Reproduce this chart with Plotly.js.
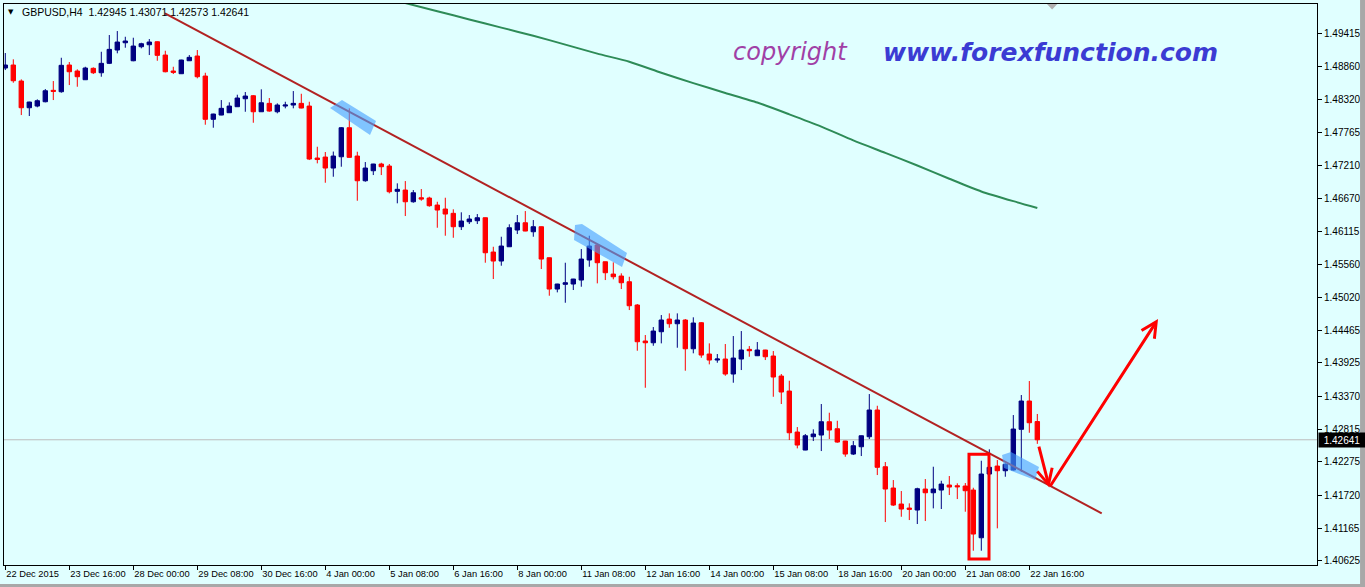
<!DOCTYPE html>
<html>
<head>
<meta charset="utf-8">
<script src="https://cdn.plot.ly/plotly-3.0.1.min.js"></script>
<style>
html,body{margin:0;padding:0;background:#e0ffff;overflow:hidden}
#chart{width:1365px;height:587px}
</style>
</head>
<body>
<div id="chart"></div>
<script>
// ---------------- DATA ----------------
const symbolTitle = 'GBPUSD,H4';
const lastQuote = [1.42945, 1.43071, 1.42573, 1.42641];

const opens = [
1.48837,1.48887,1.48620,1.48175,1.48203,1.48275,1.48465,1.48442,1.48887,1.48787,
1.48642,1.48832,1.48758,1.48915,1.49137,1.49258,1.48958,1.49192,1.49225,1.49275,
1.49053,1.48787,1.48742,1.48958,1.49037,1.48703,1.47982,1.48053,1.48092,1.48192,
1.48325,1.48375,1.48108,1.48248,1.48108,1.48203,1.48220,1.48248,1.48203,1.47337,
1.47353,1.47170,1.47358,1.47842,1.47370,1.46958,1.47125,1.47237,1.47203,1.46782,
1.46803,1.46608,1.46675,1.46670,1.46553,1.46487,1.46415,1.46192,1.46275,1.46292,
1.46342,1.45770,1.45620,1.45858,1.46137,1.46258,1.46108,1.46192,1.45675,1.45153,
1.45232,1.45237,1.45303,1.45637,1.45887,1.45608,1.45403,1.45370,1.45275,1.44887,
1.44287,1.44258,1.44442,1.44653,1.44575,1.44637,1.44158,1.44592,1.44070,1.43970,
1.43987,1.43737,1.43987,1.44148,1.44042,1.44137,1.44037,1.43703,1.43453,1.42770,
1.42470,1.42692,1.42720,1.42942,1.42825,1.42620,1.42403,1.42525,1.42692,1.43137,
1.42192,1.41837,1.41570,1.41503,1.41470,1.41820,1.41758,1.41803,1.41887,1.41875,
1.41870,1.41803,1.41008,1.42070,1.42203,1.42125,1.42137,1.42815,1.43287,1.42945];

const highs = [
1.49087,1.48982,1.48648,1.48275,1.48315,1.48487,1.48620,1.49008,1.48937,1.48815,
1.48858,1.48848,1.49108,1.49387,1.49453,1.49358,1.49342,1.49258,1.49320,1.49282,
1.49125,1.48858,1.48975,1.49053,1.49137,1.48758,1.48075,1.48303,1.48265,1.48392,
1.48437,1.48387,1.48482,1.48337,1.48248,1.48275,1.48453,1.48408,1.48275,1.47525,
1.47437,1.47445,1.47853,1.48165,1.47442,1.47270,1.47240,1.47258,1.47237,1.46915,
1.46953,1.46803,1.46820,1.46692,1.46608,1.46675,1.46482,1.46432,1.46387,1.46403,
1.46345,1.45858,1.46025,1.46232,1.46387,1.46453,1.46303,1.46195,1.45678,1.45240,
1.45592,1.45323,1.45820,1.46042,1.45898,1.45610,1.45598,1.45415,1.45358,1.44903,
1.44387,1.44520,1.44720,1.44748,1.44748,1.44653,1.44682,1.44603,1.44248,1.44070,
1.44237,1.44370,1.44453,1.44203,1.44270,1.44140,1.44120,1.43737,1.43625,1.42853,
1.42737,1.42815,1.43237,1.43092,1.42958,1.42623,1.42620,1.42712,1.43403,1.43208,
1.42270,1.41970,1.41787,1.41582,1.41842,1.41987,1.42192,1.41958,1.42037,1.41915,
1.41920,1.41842,1.42292,1.42482,1.42303,1.42248,1.43053,1.43387,1.43620,1.43071];

const lows = [
1.48803,1.48592,1.48053,1.48037,1.48182,1.48265,1.48303,1.48425,1.48553,1.48525,
1.48637,1.48737,1.48692,1.48903,1.49082,1.49175,1.48950,1.49165,1.49053,1.48958,
1.48765,1.48737,1.48737,1.48955,1.48665,1.47892,1.47842,1.48050,1.48090,1.48190,
1.48108,1.47925,1.48105,1.48108,1.48082,1.48165,1.48165,1.48165,1.47303,1.47248,
1.46925,1.47025,1.47192,1.47345,1.46625,1.46942,1.47053,1.47053,1.46748,1.46582,
1.46370,1.46592,1.46625,1.46525,1.46175,1.46042,1.46008,1.46137,1.46237,1.46237,
1.45592,1.45320,1.45542,1.45855,1.46070,1.46117,1.46025,1.45487,1.45042,1.45098,
1.44925,1.45137,1.45192,1.45525,1.45248,1.45303,1.45315,1.45153,1.44803,1.44125,
1.43508,1.44208,1.44248,1.44508,1.44175,1.43792,1.44082,1.44008,1.43898,1.43925,
1.43708,1.43592,1.43803,1.44025,1.44037,1.43970,1.43358,1.43237,1.42637,1.42498,
1.42467,1.42620,1.42453,1.42653,1.42592,1.42358,1.42387,1.42370,1.42653,1.42053,
1.41270,1.41537,1.41358,1.41303,1.41237,1.41287,1.41498,1.41487,1.41720,1.41653,
1.41442,1.40792,1.40792,1.42062,1.41165,1.42025,1.42128,1.42108,1.42758,1.42573];

const closes = [
1.48887,1.48625,1.48175,1.48270,1.48292,1.48458,1.48448,1.48882,1.48775,1.48692,
1.48837,1.48758,1.48915,1.49148,1.49270,1.49287,1.49203,1.49242,1.49270,1.49048,
1.48775,1.48765,1.48970,1.49015,1.48692,1.47982,1.48070,1.48165,1.48203,1.48337,
1.48370,1.48108,1.48258,1.48120,1.48220,1.48220,1.48248,1.48170,1.47320,1.47312,
1.47170,1.47370,1.47842,1.47348,1.46958,1.47170,1.47237,1.47192,1.46775,1.46815,
1.46608,1.46758,1.46653,1.46542,1.46470,1.46403,1.46192,1.46287,1.46320,1.46342,
1.45758,1.45620,1.45870,1.46175,1.46258,1.46120,1.46192,1.45653,1.45153,1.45237,
1.45258,1.45320,1.45653,1.45870,1.45592,1.45425,1.45358,1.45258,1.44875,1.44275,
1.44258,1.44453,1.44637,1.44575,1.44637,1.44158,1.44587,1.44053,1.43970,1.43987,
1.43737,1.44003,1.44137,1.44125,1.44137,1.44025,1.43687,1.43437,1.42758,1.42553,
1.42708,1.42737,1.42942,1.42803,1.42603,1.42403,1.42542,1.42708,1.43137,1.42182,
1.41820,1.41553,1.41487,1.41482,1.41825,1.41758,1.41820,1.41903,1.41853,1.41858,
1.41792,1.41070,1.42070,1.42182,1.42125,1.42232,1.42820,1.43287,1.42925,1.42641];

// moving average (green line), read every 4 bars
const maBars = [50,54,58,62,66,70,74,78,82,86,90,94,98,102,106,110,114,118,122,126,129];
const maValues = [1.49920,1.49783,1.49647,1.49510,1.49375,1.49227,1.49077,1.48942,1.48758,1.48585,
                  1.48422,1.48262,1.48065,1.47860,1.47630,1.47423,1.47212,1.46992,1.46780,1.46618,1.46505];

// trend line (bar position, price)
const trendBars = [19.96, 137.05];
const trendPrices = [1.49748, 1.41415];

// time axis labels (one every 8 bars)
const timeLabels = ['22 Dec 2015','23 Dec 16:00','28 Dec 00:00','29 Dec 08:00','30 Dec 16:00',
  '4 Jan 00:00','5 Jan 08:00','6 Jan 16:00','8 Jan 00:00','11 Jan 08:00','12 Jan 16:00',
  '14 Jan 00:00','15 Jan 08:00','18 Jan 16:00','20 Jan 00:00','21 Jan 08:00','22 Jan 16:00'];
const barsPerLabel = 8;

// price axis labels
const priceTicks = [1.49415,1.48860,1.48320,1.47765,1.47210,1.46670,1.46115,1.45560,1.45020,
  1.44465,1.43925,1.43370,1.42815,1.42275,1.41720,1.41165,1.40625];

// ---------------- CHART ----------------
const bars = opens.map((_, i) => i);
const tickPos = timeLabels.map((_, k) => k * barsPerLabel);
const lastClose = closes[closes.length - 1];
const F = 'Liberation Sans, Arial, sans-serif';

const traces = [
  {
    type: 'scatter', mode: 'lines', x: maBars, y: maValues,
    line: {color: '#2e8b57', width: 2, shape: 'spline', smoothing: 0.6}, hoverinfo: 'skip'
  },
  {
    type: 'candlestick', x: bars, open: opens, high: highs, low: lows, close: closes,
    increasing: {line: {color: '#000080', width: 1}, fillcolor: '#000080'},
    decreasing: {line: {color: '#ff0000', width: 1}, fillcolor: '#ff0000'},
    whiskerwidth: 0, hoverinfo: 'skip'
  },
  {
    type: 'scatter', mode: 'lines', x: trendBars, y: trendPrices,
    line: {color: '#b22222', width: 2}, hoverinfo: 'skip'
  }
];

function poly(pts) {
  return 'M' + pts.map(p => p[0] + ',' + p[1]).join('L') + 'Z';
}
const hl = 'rgba(70,160,255,0.62)';

const shapes = [
  // current price line
  {type: 'line', xref: 'paper', x0: 0, x1: 1, yref: 'y', y0: lastClose, y1: lastClose,
   line: {color: '#bdbdbd', width: 1}, layer: 'below'},
  // blue highlight strokes
  {type: 'path', xref: 'x', yref: 'y', layer: 'above', fillcolor: hl, line: {width: 0},
   path: poly([[40.59,1.48170],[42.09,1.48303],[46.34,1.47953],[45.59,1.47720]])},
  {type: 'path', xref: 'x', yref: 'y', layer: 'above', fillcolor: hl, line: {width: 0},
   path: poly([[71.21,1.46220],[72.09,1.46237],[77.71,1.45753],[77.09,1.45520],[71.09,1.45970]])},
  {type: 'path', xref: 'x', yref: 'y', layer: 'above', fillcolor: hl, line: {width: 0},
   path: poly([[124.59,1.42387],[125.71,1.42437],[129.21,1.42187],[128.71,1.41970],[124.84,1.42170]])},
  // red box
  {type: 'rect', xref: 'x', yref: 'y', x0: 120.46, x1: 122.96, y0: 1.40653, y1: 1.42398,
   line: {color: '#ff0000', width: 3}, fillcolor: 'rgba(0,0,0,0)', layer: 'above'},
  // shift marker
  {type: 'path', xref: 'x', yref: 'paper', fillcolor: '#b0b0b0', line: {width: 0},
   path: 'M130.2,1 L131.5,1 L130.85,0.99 Z'},
  // window border (right / bottom)
  {type: 'rect', xref: 'paper', yref: 'paper', x0: 1.0328, x1: 1.05, y0: -0.05, y1: 1.02,
   fillcolor: '#a8a8a8', line: {width: 0}},
  {type: 'rect', xref: 'paper', yref: 'paper', x0: -0.01, x1: 1.05, y0: -0.05, y1: -0.0339,
   fillcolor: '#a8a8a8', line: {width: 0}}
];

const annotations = [
  // header
  {xref: 'paper', yref: 'paper', x: 0.0053, y: 0.9857, xanchor: 'center', yanchor: 'middle',
   text: '▼', showarrow: false, font: {family: 'DejaVu Sans', size: 7, color: '#000'}},
  {xref: 'paper', yref: 'paper', x: 0.0122, y: 0.9857, xanchor: 'left', yanchor: 'middle',
   text: symbolTitle + '&nbsp;&nbsp;' + lastQuote.map(v => v.toFixed(5)).join(' '),
   showarrow: false, font: {family: F, size: 10.5, color: '#000'}},
  // watermark
  {xref: 'x', yref: 'y', x: 98.2, y: 1.49103, xanchor: 'center', yanchor: 'middle',
   text: '<i>copyright</i>', showarrow: false,
   font: {family: 'DejaVu Sans', size: 24, color: '#a040a6'}},
  {xref: 'x', yref: 'y', x: 130.6, y: 1.49103, xanchor: 'center', yanchor: 'middle',
   text: '<b><i>www.forexfunction.com</i></b>', showarrow: false,
   font: {family: 'DejaVu Sans', size: 25, color: '#3b3bd3'}},
  // current price label
  {xref: 'paper', yref: 'y', x: 1, y: lastClose, xanchor: 'left', yanchor: 'middle', xshift: 1,
   text: lastClose.toFixed(5), showarrow: false, bgcolor: '#000', width: 44, height: 12,
   font: {family: F, size: 10, color: '#fff'}},
  // arrows
  {xref: 'x', yref: 'y', axref: 'x', ayref: 'y', x: 130.5, y: 1.41845, ax: 129.15, ay: 1.42553,
   text: '', showarrow: true, arrowhead: 5, arrowsize: 1, arrowwidth: 3, arrowcolor: '#ff0000', standoff: 0},
  {xref: 'x', yref: 'y', axref: 'x', ayref: 'y', x: 144.09, y: 1.44653, ax: 130.5, ay: 1.41845,
   text: '', showarrow: true, arrowhead: 5, arrowsize: 1, arrowwidth: 3, arrowcolor: '#ff0000', standoff: 0}
];

const layout = {
  width: 1365, height: 587,
  margin: {l: 4, r: 48, t: 4, b: 22},
  paper_bgcolor: '#e0ffff', plot_bgcolor: '#e0ffff',
  showlegend: false, hovermode: false, dragmode: false,
  boxgap: 0.45, boxgroupgap: 0,
  xaxis: {
    type: 'linear', range: [-0.1625, 163.96], rangeslider: {visible: false},
    tickmode: 'array', tickvals: tickPos, ticktext: timeLabels, tickangle: 0, automargin: false,
    ticks: 'outside', ticklen: 4, tickcolor: '#000', ticklabelposition: 'outside right',
    showgrid: false, zeroline: false, showline: true, linecolor: '#000', linewidth: 1, mirror: true,
    tickfont: {family: F, size: 9.3, color: '#000'}, fixedrange: true
  },
  yaxis: {
    side: 'right', range: [1.40554, 1.49904], automargin: false,
    tickmode: 'array', tickvals: priceTicks, ticktext: priceTicks.map(v => v.toFixed(5)),
    ticks: 'outside', ticklen: 4, tickcolor: '#000',
    showgrid: false, zeroline: false, showline: true, linecolor: '#000', linewidth: 1, mirror: true,
    tickfont: {family: F, size: 10, color: '#000'}, fixedrange: true
  },
  shapes: shapes,
  annotations: annotations
};

Plotly.newPlot('chart', traces, layout, {staticPlot: true, displayModeBar: false});
</script>
</body>
</html>
